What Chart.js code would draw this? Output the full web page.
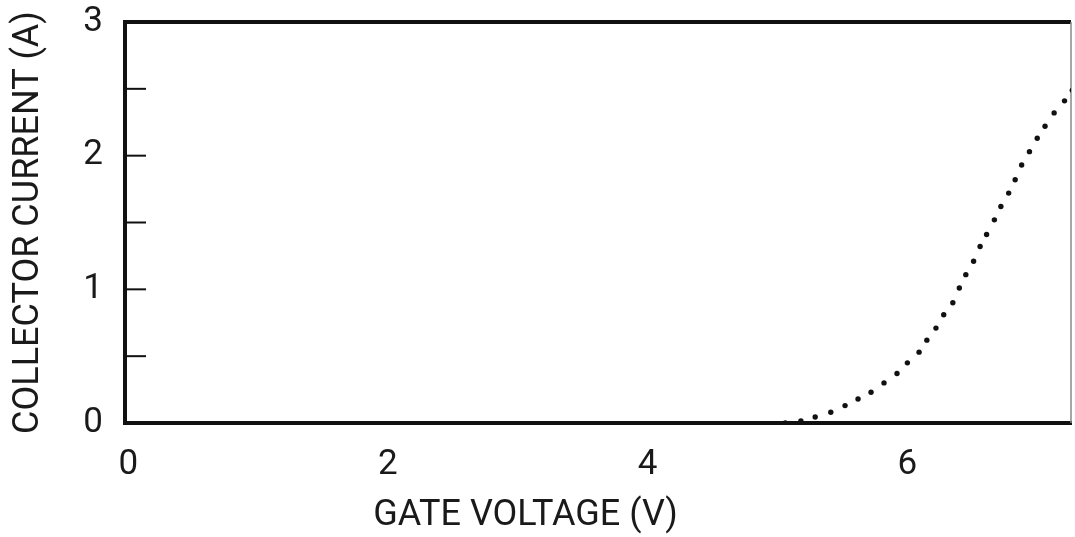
<!DOCTYPE html>
<html>
<head>
<meta charset="utf-8">
<script src="https://cdn.jsdelivr.net/npm/chart.js@4/dist/chart.umd.min.js"></script>
<style>
  html, body { margin: 0; padding: 0; background: #fff; }
  #wrap { width: 1075px; height: 537px; }
</style>
</head>
<body>
<div id="wrap"><canvas id="ivChart"></canvas></div>
<script>
// dots (gate voltage V, collector current A)
const gateVoltage = [5.06, 5.18, 5.29, 5.41, 5.52, 5.62, 5.72, 5.82, 5.92, 6.00,
                     6.09, 6.15, 6.22, 6.28, 6.35, 6.40, 6.45, 6.51, 6.56, 6.61,
                     6.67, 6.72, 6.78, 6.83, 6.88, 6.94, 7.00, 7.06, 7.13, 7.21, 7.27];
const collectorCurrent = [0.00, 0.015, 0.045, 0.08, 0.13, 0.18, 0.23, 0.30, 0.37, 0.45,
                          0.53, 0.62, 0.71, 0.81, 0.90, 1.01, 1.11, 1.21, 1.32, 1.41,
                          1.52, 1.62, 1.72, 1.82, 1.93, 2.03, 2.13, 2.22, 2.32, 2.41, 2.49];
const xTicks = [0, 2, 4, 6];
const yTicks = [0, 1, 2, 3];
const yMinorTicks = [0.5, 1, 1.5, 2, 2.5];
const xTitle = 'GATE VOLTAGE (V)';
const yTitle = 'COLLECTOR CURRENT (A)';

const ink = '#111';
const textInk = '#1a1a1a';
const tickFont = { family: 'Roboto', size: 35 };
const titleFont = { family: 'Roboto', size: 36 };

// top/right frame, inward ticks on the left axis, x axis title
const framePlugin = {
  id: 'frame',
  beforeDatasetsDraw(chart) {
    const { ctx, chartArea: a, scales } = chart;
    ctx.save();
    ctx.strokeStyle = ink;
    ctx.lineWidth = 4;
    ctx.beginPath();
    ctx.moveTo(a.left - 2, a.top);
    ctx.lineTo(a.right, a.top);
    ctx.stroke();
    ctx.strokeStyle = '#888';
    ctx.lineWidth = 1.5;
    ctx.beginPath();
    ctx.moveTo(a.right, a.top);
    ctx.lineTo(a.right, a.bottom);
    ctx.stroke();
    ctx.strokeStyle = ink;
    ctx.lineWidth = 2;
    yMinorTicks.forEach(v => {
      const y = scales.y.getPixelForValue(v);
      ctx.beginPath();
      ctx.moveTo(a.left, y);
      ctx.lineTo(a.left + 21, y);
      ctx.stroke();
    });
    ctx.restore();
  },
  afterDraw(chart) {
    // the title sits left of the plot centre in the original
    const { ctx, width, height } = chart;
    ctx.save();
    ctx.fillStyle = textInk;
    ctx.font = `${titleFont.size}px ${titleFont.family}`;
    ctx.textAlign = 'center';
    ctx.textBaseline = 'alphabetic';
    ctx.fillText(xTitle, width / 2 - 12, height - 12);
    ctx.restore();
  }
};

const ctx = document.getElementById('ivChart').getContext('2d');
new Chart(ctx, {
  type: 'scatter',
  data: {
    datasets: [{
      data: gateVoltage.map((x, i) => ({ x: x, y: collectorCurrent[i] })),
      backgroundColor: ink,
      borderColor: ink,
      pointRadius: 2.7,
      borderWidth: 0,
      showLine: false
    }]
  },
  options: {
    responsive: true,
    maintainAspectRatio: false,
    animation: false,
    events: [],
    layout: { padding: { top: 22, right: 1, left: 0, bottom: 0 } },
    plugins: {
      legend: { display: false },
      tooltip: { enabled: false }
    },
    scales: {
      x: {
        type: 'linear',
        min: -0.025,
        max: 7.26,
        afterBuildTicks: s => { s.ticks = xTicks.map(v => ({ value: v })); },
        afterFit: s => { s.height = 114; s.paddingLeft = 0; s.paddingRight = 0; },
        grid: { display: false, drawTicks: false },
        border: { display: true, color: ink, width: 4 },
        ticks: { color: textInk, font: tickFont, padding: 21, maxRotation: 0 }
      },
      y: {
        min: 0,
        max: 3,
        afterBuildTicks: s => { s.ticks = yTicks.map(v => ({ value: v })); },
        afterFit: s => { s.width = 125; s.paddingTop = 0; s.paddingBottom = 0; },
        grid: { display: false, drawTicks: false },
        border: { display: true, color: ink, width: 4 },
        ticks: { color: textInk, font: tickFont, padding: 22 },
        title: {
          display: true,
          text: yTitle,
          color: textInk,
          font: titleFont,
          padding: { top: 7, bottom: 0 }
        }
      }
    }
  },
  plugins: [framePlugin]
});
</script>
</body>
</html>
